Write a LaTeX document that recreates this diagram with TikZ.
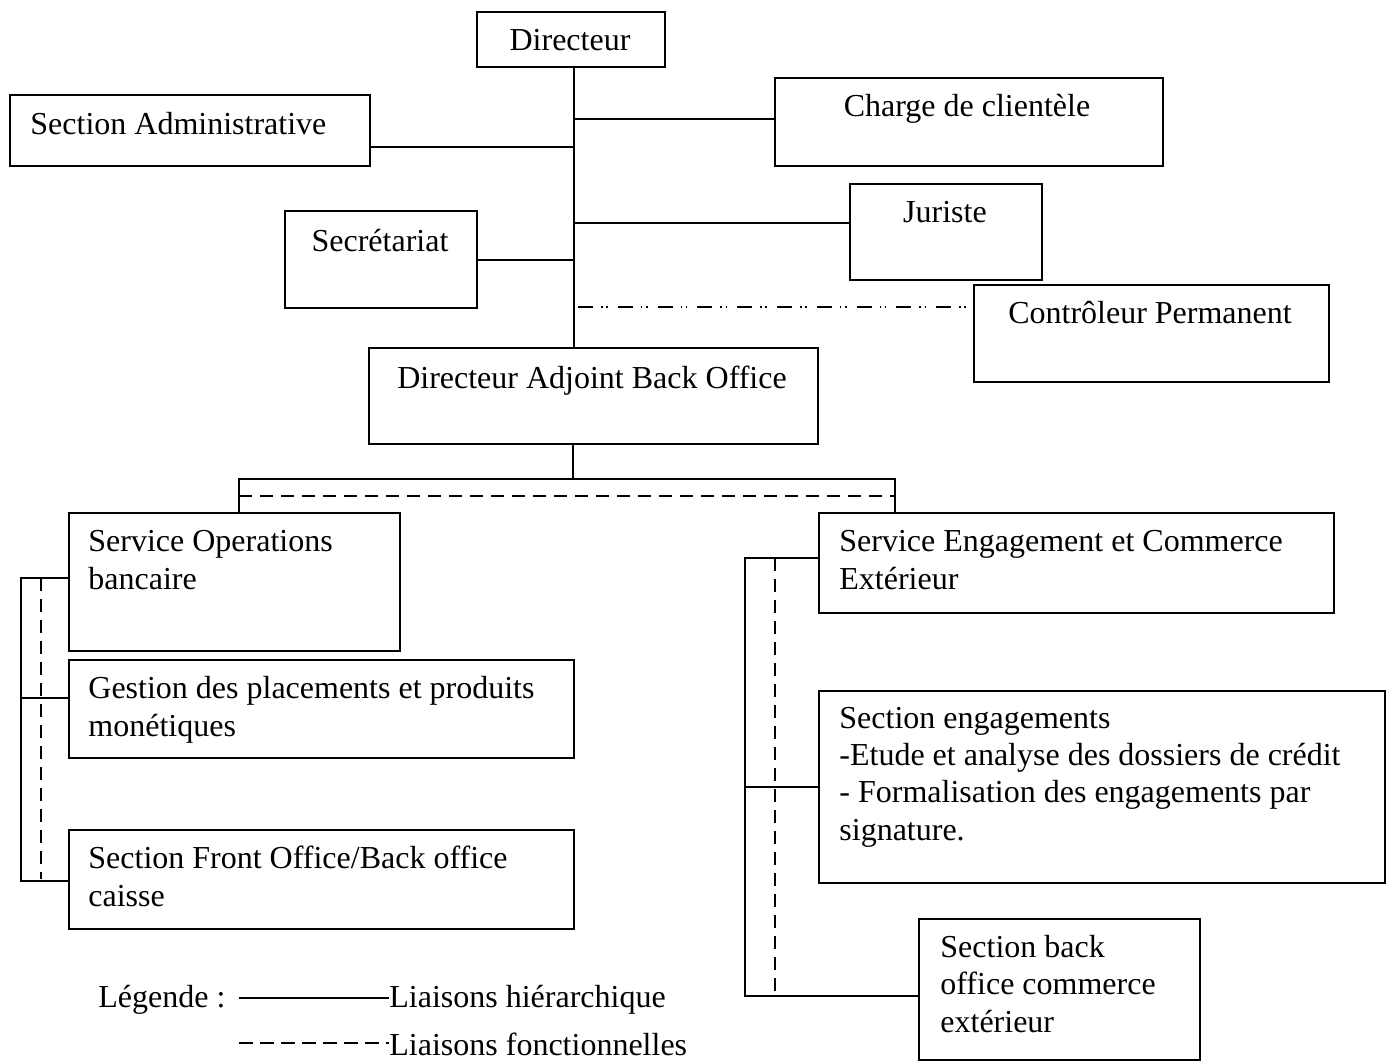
\documentclass[tikz,border=0pt]{standalone}
\usepackage{fontspec}
\setmainfont{Liberation Serif}
\begin{document}
\begin{tikzpicture}[x=0.5pt,y=-0.5pt,
  box/.style={draw,line width=1pt,inner sep=0pt,anchor=north west},
  txt/.style={inner sep=0pt,font=\fontsize{16pt}{18.6pt}\selectfont},
  txtl/.style={txt,anchor=base west,align=left},
  txtc/.style={txt,anchor=base},
  hier/.style={line width=1pt},
  fonc/.style={line width=1pt,dash pattern=on 6.5pt off 4pt},
  ctrlline/.style={line width=1pt,dash pattern=on 7.5pt off 4pt on 0.8pt off 1.8pt on 0.8pt off 5pt}]
\useasboundingbox (0,0) rectangle (1386,1064);
\fill[white] (0,0) rectangle (1386,1064);

% boxes
\node[box,minimum width=94pt,minimum height=27.5pt] (dir) at (476,11) {};
\node[box,minimum width=180pt,minimum height=35.5pt] (sa) at (9,94) {};
\node[box,minimum width=194pt,minimum height=44pt] (cc) at (774,77) {};
\node[box,minimum width=96pt,minimum height=48.5pt] (sec) at (284,210) {};
\node[box,minimum width=96pt,minimum height=48pt] (jur) at (849,183) {};
\node[box,minimum width=177.5pt,minimum height=48.5pt] (ctrl) at (973,284) {};
\node[box,minimum width=224.5pt,minimum height=48pt] (dabo) at (368,347) {};
\node[box,minimum width=165.5pt,minimum height=69pt] (sob) at (68,512) {};
\node[box,minimum width=252.5pt,minimum height=49pt] (gp) at (68,659) {};
\node[box,minimum width=252.5pt,minimum height=49.5pt] (sfo) at (68,829) {};
\node[box,minimum width=257.5pt,minimum height=50pt] (sece) at (818,512) {};
\node[box,minimum width=283pt,minimum height=96pt] (seng) at (818,690) {};
\node[box,minimum width=140.5pt,minimum height=70.5pt] (sbo) at (918,918) {};

% texts (multi-line texts are placed by the baseline of their last line)
\node[txtc] (dir-t) at (570,51) {Directeur};
\node[txtl] (sa-t) at (30,135) {Section Administrative};
\node[txtc] (cc-t) at (967,117) {Charge de clientèle};
\node[txtc] (sec-t) at (380,251) {Secrétariat};
\node[txtc] (jur-t) at (945,223) {Juriste};
\node[txtc] (ctrl-t) at (1150,323) {Contrôleur Permanent};
\node[txtc] (dabo-t) at (592,388) {Directeur Adjoint Back Office};
\node[txtl] (sob-t) at (88,589) {Service Operations\\bancaire};
\node[txtl] (gp-t) at (88,736) {Gestion des placements et produits\\monétiques};
\node[txtl] (sfo-t) at (88,906) {Section Front Office/Back office\\caisse};
\node[txtl] (sece-t) at (839,589) {Service Engagement et Commerce\\Extérieur};
\node[txtl] (seng-t) at (839,840) {Section engagements\\-Etude et analyse des dossiers de crédit\\- Formalisation des engagements par\\signature.};
\node[txtl] (sbo-t) at (940,1032) {Section back\\office commerce\\extérieur};

% spine
\coordinate (s1) at (574,119);
\coordinate (s2) at (574,147);
\coordinate (s3) at (574,223);
\coordinate (s4) at (574,260);
\coordinate (s5) at (578,307);
\draw[hier] (dir.south -| s1) -- (dabo.north -| s1);
\draw[hier] (s1) -- (cc.west |- s1);
\draw[hier] (sa.east |- s2) -- (s2);
\draw[hier] (s3) -- (jur.west |- s3);
\draw[hier] (sec.east |- s4) -- (s4);
\draw[ctrlline] (s5) -- (ctrl.west |- s5);

% branch below DABO
\coordinate (b0) at (573,479);
\coordinate (bl) at (239,479);
\coordinate (br) at (895,479);
\coordinate (dl) at (239,496);
\coordinate (dr) at (895,496);
\draw[hier] (dabo.south -| b0) -- (b0);
\draw[hier] (sob.north -| bl) -- (bl) -- (br) -- (sece.north -| br);
\draw[fonc] (dl) -- (dr);

% left bracket
\coordinate (l1) at (21,578);
\coordinate (l2) at (21,698);
\coordinate (l3) at (21,881);
\coordinate (ld1) at (41,578);
\coordinate (ld2) at (41,879);
\draw[hier] (sob.west |- l1) -- (l1) -- (l3) -- (sfo.west |- l3);
\draw[hier] (l2) -- (gp.west |- l2);
\draw[fonc] (ld1) -- (ld2);

% right bracket
\coordinate (r1) at (745,558);
\coordinate (r2) at (745,787);
\coordinate (r3) at (745,996);
\coordinate (rd1) at (775,558);
\coordinate (rd2) at (775,992);
\draw[hier] (sece.west |- r1) -- (r1) -- (r3) -- (sbo.west |- r3);
\draw[hier] (r2) -- (seng.west |- r2);
\draw[fonc] (rd1) -- (rd2);

% legend
\node[txtl] (leg) at (98,1007) {Légende :};
\coordinate (lh1) at (239,998);
\coordinate (lf1) at (239,1043);
\node[txtl] (lh-t) at (389,1007) {Liaisons hiérarchique};
\node[txtl] (lf-t) at (389,1055) {Liaisons fonctionnelles};
\draw[hier] (lh1) -- (lh-t.west |- lh1);
\draw[line width=1pt,dash pattern=on 7pt off 3.5pt] (lf1) -- (lf-t.west |- lf1);
\end{tikzpicture}
\end{document}
